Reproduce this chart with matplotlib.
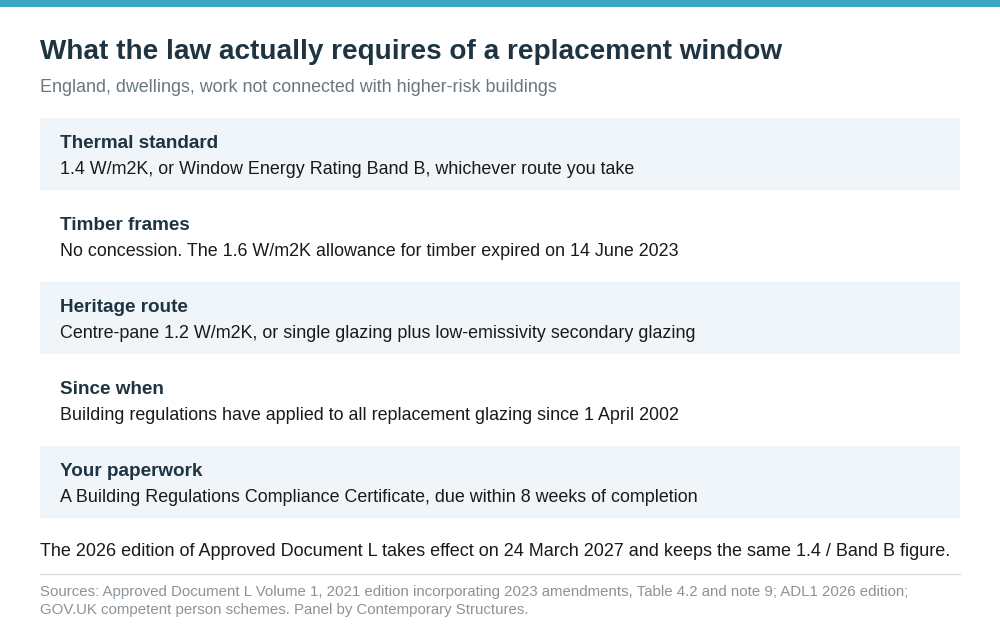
#!/usr/bin/env python3
import matplotlib
matplotlib.use("Agg")
import matplotlib.pyplot as plt
from matplotlib.patches import Rectangle

TITLE = "What the law actually requires of a replacement window"
SUBTITLE = "England, dwellings, work not connected with higher-risk buildings"

# Panel rows: heading and body text
headings = ["Thermal standard", "Timber frames", "Heritage route", "Since when", "Your paperwork"]
bodies = [
    "1.4 W/m2K, or Window Energy Rating Band B, whichever route you take",
    "No concession. The 1.6 W/m2K allowance for timber expired on 14 June 2023",
    "Centre-pane 1.2 W/m2K, or single glazing plus low-emissivity secondary glazing",
    "Building regulations have applied to all replacement glazing since 1 April 2002",
    "A Building Regulations Compliance Certificate, due within 8 weeks of completion",
]

NOTE = ("The 2026 edition of Approved Document L takes effect on 24 March 2027 "
        "and keeps the same 1.4 / Band B figure.")
SOURCES = ("Sources: Approved Document L Volume 1, 2021 edition incorporating 2023 amendments, Table 4.2 and note 9; ADL1 2026 edition;\n"
           "GOV.UK competent person schemes. Panel by Contemporary Structures.")

plt.rcParams['font.family'] = ['Liberation Sans', 'DejaVu Sans']

fig = plt.figure(figsize=(10, 6.4), dpi=100)
ax = fig.add_axes([0, 0, 1, 1])
ax.set_xlim(0, 1000)
ax.set_ylim(640, 0)
ax.axis("off")

# teal bar along the top
ax.add_patch(Rectangle((0, 0), 1000, 7, color="#3aa8c1", lw=0))

ax.text(40, 52, TITLE, fontsize=20.1, fontweight="bold", color="#1e3441", va="center")
ax.text(40, 87, SUBTITLE, fontsize=12.9, color="#6b7780", va="center")

row_top, row_h, row_step = 118, 72, 82
for i, (h, b) in enumerate(zip(headings, bodies)):
    y = row_top + i * row_step
    if i % 2 == 0:
        ax.add_patch(Rectangle((40, y), 920, row_h, color="#eff5f9", lw=0))
    ax.text(60, y + 26, h, fontsize=13.6, fontweight="bold", color="#1e3441", va="center")
    ax.text(60, y + 52, b, fontsize=12.9, color="#1a1a1a", va="center")

ax.text(40, 551, NOTE, fontsize=13.0, color="#1a1a1a", va="center")
ax.plot([40, 960], [574, 574], color="#dddddd", lw=1)
ax.text(40, 601, SOURCES, fontsize=10.8, color="#8a939a", va="center", linespacing=1.3)

fig.savefig("out.png", dpi=100, facecolor="white")
